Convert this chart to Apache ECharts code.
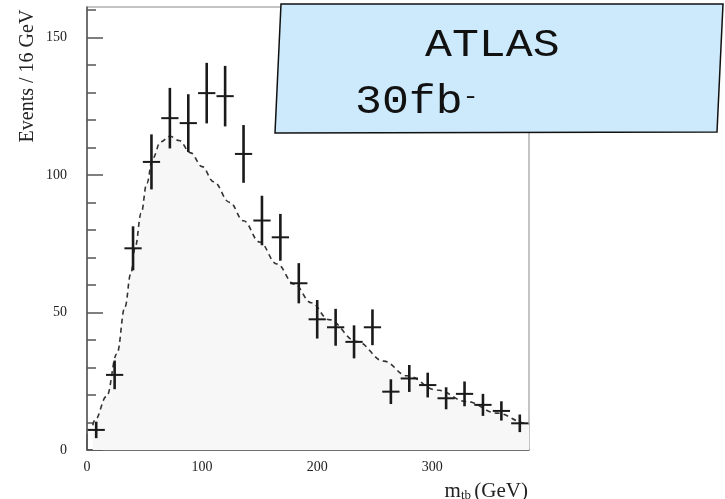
<!DOCTYPE html>
<html>
<head>
<meta charset="utf-8">
<script src="https://cdn.jsdelivr.net/npm/echarts@6/dist/echarts.min.js"></script>
<style>
  html, body { margin: 0; padding: 0; background: #fff; }
  #main { width: 725px; height: 499px; }
</style>
</head>
<body>
<div id="main"></div>
<script>
// bin centres (16 GeV bins), events and errors
var binCentres = [8, 24, 40, 56, 72, 88, 104, 120, 136, 152, 168, 184, 200, 216, 232, 248, 264, 280, 296, 312, 328, 344, 360, 376];
var events = [7.3, 27.3, 73.3, 104.7, 120.6, 118.8, 129.7, 128.6, 107.6, 83.4, 77.3, 60.6, 47.5, 44.6, 39.3, 44.6, 21.2, 26, 23.6, 18.8, 20.4, 16.4, 14.2, 9.7];
var errors = [3, 5.2, 8, 10, 11, 10.5, 11, 11, 10.5, 9, 8.5, 7.3, 7, 6.7, 6, 6.5, 4.5, 4.9, 4.5, 4, 4.5, 4, 3.5, 3.2];
// dashed background curve
var curveX = [5, 7, 17, 26, 33, 38, 42, 47, 52, 57, 64, 72, 80, 90, 100, 110, 124, 136, 150, 165, 180, 195, 210, 234.5, 258, 278, 304, 330, 356, 382, 384];
var curveY = [9, 11, 19.5, 35, 52, 64, 74, 86, 97, 106, 112, 114, 112.5, 108, 103, 97.5, 90, 83.3, 75.6, 67.6, 60.3, 53.5, 47.4, 39.4, 32.3, 27, 21.8, 17.6, 13.4, 9.7, 9.4];
var yTicks = [0, 50, 100, 150];
var xTicks = [0, 100, 200, 300];

var pts = [];
for (var i = 0; i < binCentres.length; i++) {
    pts.push([binCentres[i], events[i], errors[i]]);
}
var curve = [];
for (var j = 0; j < curveX.length; j++) {
    curve.push([curveX[j], curveY[j]]);
}

var myChart = echarts.init(document.getElementById('main'));
var serif = '"Liberation Serif", "DejaVu Serif", serif';
var mono = '"Liberation Mono", "Courier New", monospace';

myChart.setOption({
    animation: false,
    backgroundColor: '#fff',
    grid: {
        left: 87, right: 196, top: 7, bottom: 49,
        show: true, borderColor: '#888', borderWidth: 1
    },
    xAxis: {
        type: 'value', min: 0, max: 384, interval: 100,
        axisLine: {show: true, onZero: false, lineStyle: {color: '#555', width: 1.5}},
        axisTick: {show: true, inside: true, length: 16, lineStyle: {color: '#555', width: 1.5},
            customValues: xTicks},
        minorTick: {show: true, splitNumber: 5, length: 9, lineStyle: {color: '#555', width: 1.5}},
        axisLabel: {color: '#222', fontFamily: serif, fontSize: 14, margin: 10, customValues: xTicks},
        splitLine: {show: false}
    },
    yAxis: {
        type: 'value', min: 0, max: 161, interval: 50,
        axisLine: {show: true, onZero: false, lineStyle: {color: '#555', width: 1.5}},
        axisTick: {show: true, inside: true, length: 16, lineStyle: {color: '#555', width: 1.5},
            customValues: yTicks},
        minorTick: {show: true, splitNumber: 5, length: 9, lineStyle: {color: '#555', width: 1.5}},
        axisLabel: {color: '#222', fontFamily: serif, fontSize: 14, margin: 20, customValues: yTicks},
        splitLine: {show: false}
    },
    series: [{
        type: 'line',
        data: curve,
        smooth: 0.4,
        smoothMonotone: 'x',
        showSymbol: false,
        lineStyle: {color: '#333', width: 1.6, type: [5, 4]},
        areaStyle: {color: '#f7f7f7', opacity: 1},
        z: 2
    }, {
        type: 'custom',
        data: pts,
        z: 3,
        renderItem: function (params, api) {
            var x = api.value(0), y = api.value(1), e = api.value(2);
            var c = api.coord([x, y]);
            var top = api.coord([x, y + e]);
            var bot = api.coord([x, y - e]);
            var l = api.coord([x - 7.5, y]);
            var r = api.coord([x + 7.5, y]);
            return {
                type: 'group',
                children: [{
                    type: 'line',
                    shape: {x1: top[0], y1: top[1], x2: bot[0], y2: bot[1]},
                    style: {stroke: '#1a1a1a', lineWidth: 2.6}
                }, {
                    type: 'line',
                    shape: {x1: l[0], y1: c[1], x2: r[0], y2: c[1]},
                    style: {stroke: '#1a1a1a', lineWidth: 2}
                }]
            };
        }
    }],
    graphic: [{
        type: 'text',
        x: 28, y: 76,
        rotation: Math.PI / 2,
        style: {text: 'Events / 16 GeV', font: '20px ' + serif, fill: '#222',
            textAlign: 'center', textVerticalAlign: 'middle'}
    }, {
        type: 'text',
        x: 528, y: 491,
        style: {
            text: '{m|m}{s|tb} {m|(GeV)}',
            textAlign: 'right', textVerticalAlign: 'middle',
            rich: {
                m: {font: '21px ' + serif, fill: '#222'},
                s: {font: '13px ' + serif, fill: '#222', padding: [9, 0, 0, 0]}
            }
        }
    }, {
        type: 'polygon',
        shape: {points: [[281, 4], [723, 4], [717, 132], [275, 133]]},
        style: {fill: '#cdeafc', stroke: '#111', lineWidth: 1.5},
        z: 10
    }, {
        type: 'text',
        x: 425, y: 65,
        scaleX: 1.15,
        style: {text: 'ATLAS', font: '39px ' + mono, fill: '#111',
            textVerticalAlign: 'bottom'},
        z: 11
    }, {
        type: 'text',
        x: 355, y: 122,
        scaleX: 1.12,
        style: {
            text: '{b|30fb}{s|-}',
            textVerticalAlign: 'bottom',
            rich: {
                b: {font: '40px ' + mono, fill: '#111'},
                s: {font: '24px ' + mono, fill: '#111', padding: [0, 0, 10, 0]}
            }
        },
        z: 11
    }]
});
</script>
</body>
</html>
